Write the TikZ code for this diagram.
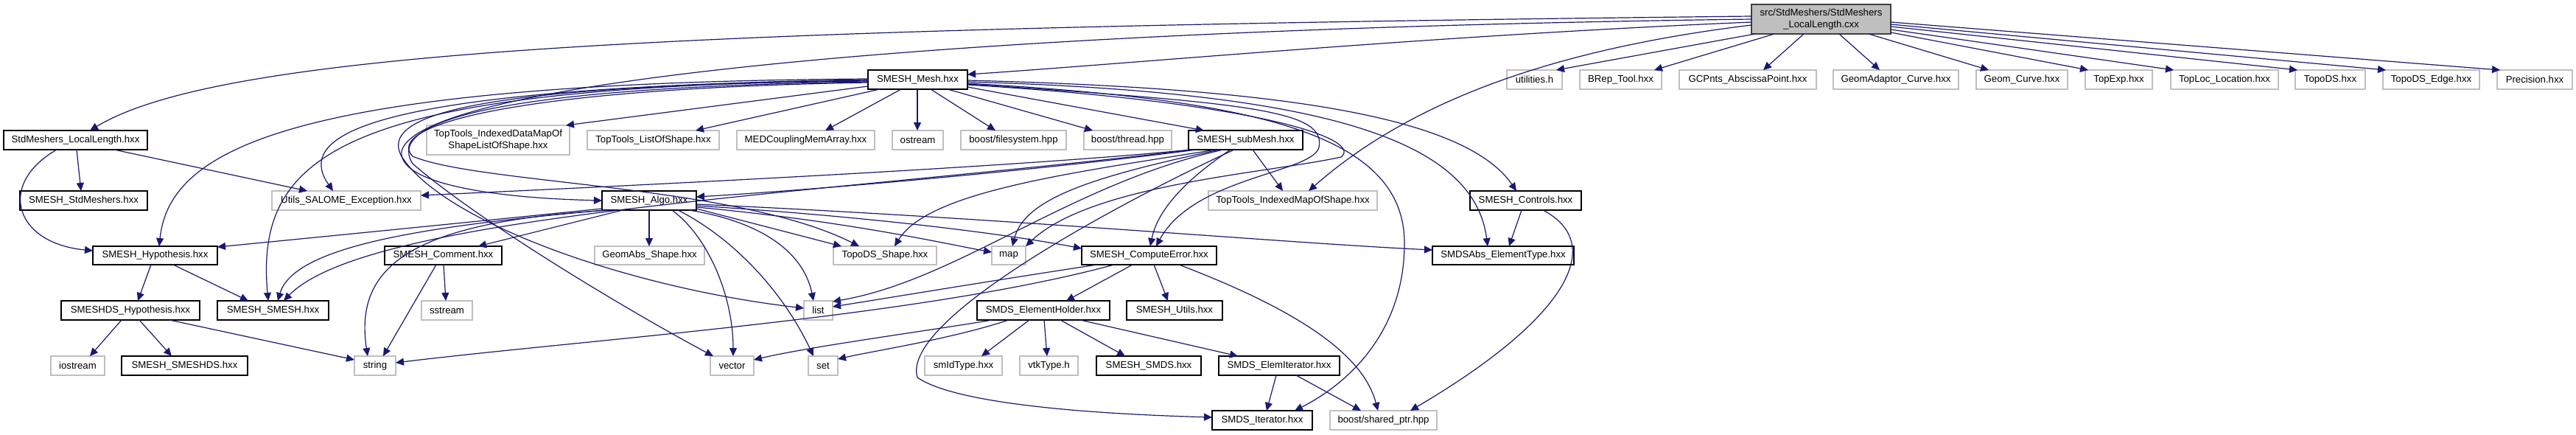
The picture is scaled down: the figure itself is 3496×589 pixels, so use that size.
\documentclass[tikz,border=0pt]{standalone}
\usepackage{fontspec}
\setmainfont{Liberation Sans}
\usetikzlibrary{arrows.meta}
\definecolor{edgec}{HTML}{191970}
\definecolor{gborder}{HTML}{BFBFBF}
\definecolor{rootfill}{HTML}{BFBFBF}
\definecolor{rootborder}{HTML}{404040}
\newcommand\mknode[7]{%
 \pgfmathsetmacro\mkcx{(#2+#4)/2}%
 \pgfmathsetmacro\mkcy{(#3+#5)/2}%
 \pgfmathsetmacro\mkw{(#4-#2)*0.5}%
 \pgfmathsetmacro\mkh{(#5-#3)*0.5}%
 \node[#6, minimum width=\mkw pt, minimum height=\mkh pt] (#1) at (\mkcx,\mkcy) {#7};}
\tikzset{
 base/.style={rectangle, inner sep=0pt, outer sep=0pt, align=center, font=\fontsize{6.6}{7.6}\selectfont, fill=white},
 bnode/.style={base, draw=black, line width=0.75pt},
 gnode/.style={base, draw=gborder, line width=0.75pt},
 rnode/.style={base, draw=rootborder, fill=rootfill, line width=0.75pt},
 dep/.style={draw=edgec, line width=0.6pt, -{Triangle[length=5.5pt,width=5pt]}, edgec}
}
\begin{document}
\begin{tikzpicture}[x=0.5pt, y=-0.5pt]
\useasboundingbox[fill=white] (0,0) rectangle (3496,589);
% nodes
\mknode{R}{2377}{6}{2566}{46}{rnode}{src/StdMeshers/StdMeshers\\\_LocalLength.cxx}
\mknode{util}{2045}{95}{2120}{121}{gnode}{utilities.h}
\mknode{brep}{2144}{95}{2255}{121}{gnode}{BRep\_Tool.hxx}
\mknode{gcp}{2279}{95}{2465}{121}{gnode}{GCPnts\_AbscissaPoint.hxx}
\mknode{gac}{2488}{95}{2658}{121}{gnode}{GeomAdaptor\_Curve.hxx}
\mknode{gcu}{2682}{95}{2806}{121}{gnode}{Geom\_Curve.hxx}
\mknode{texp}{2830}{95}{2921}{121}{gnode}{TopExp.hxx}
\mknode{tloc}{2946}{95}{3092}{121}{gnode}{TopLoc\_Location.hxx}
\mknode{tds}{3115}{95}{3210}{121}{gnode}{TopoDS.hxx}
\mknode{tdse}{3234}{95}{3365}{121}{gnode}{TopoDS\_Edge.hxx}
\mknode{prec}{3389}{95}{3491}{121}{gnode}{Precision.hxx}
\mknode{M}{1178}{95}{1313}{121}{bnode}{SMESH\_Mesh.hxx}
\mknode{sll}{5}{177}{200}{203}{bnode}{StdMeshers\_LocalLength.hxx}
\mknode{ttidm}{579}{170}{773}{210}{gnode}{TopTools\_IndexedDataMapOf\\ShapeListOfShape.hxx}
\mknode{ttlos}{797}{177}{976}{203}{gnode}{TopTools\_ListOfShape.hxx}
\mknode{medc}{1000}{177}{1187}{203}{gnode}{MEDCouplingMemArray.hxx}
\mknode{ostr}{1211}{177}{1280}{203}{gnode}{ostream}
\mknode{bfs}{1304}{177}{1447}{203}{gnode}{boost/filesystem.hpp}
\mknode{bthr}{1471}{177}{1590}{203}{gnode}{boost/thread.hpp}
\mknode{sub}{1613}{177}{1768}{203}{bnode}{SMESH\_subMesh.hxx}
\mknode{sstd}{27}{259}{200}{285}{bnode}{SMESH\_StdMeshers.hxx}
\mknode{uexc}{369}{259}{571}{285}{gnode}{Utils\_SALOME\_Exception.hxx}
\mknode{algo}{817}{259}{945}{285}{bnode}{SMESH\_Algo.hxx}
\mknode{ttim}{1640}{259}{1869}{285}{gnode}{TopTools\_IndexedMapOfShape.hxx}
\mknode{ctrl}{1995}{259}{2146}{285}{bnode}{SMESH\_Controls.hxx}
\mknode{hyp}{126}{334}{295}{359}{bnode}{SMESH\_Hypothesis.hxx}
\mknode{cmt}{522}{334}{681}{359}{bnode}{SMESH\_Comment.hxx}
\mknode{gabs}{807}{334}{956}{359}{gnode}{GeomAbs\_Shape.hxx}
\mknode{tdsh}{1131}{334}{1271}{359}{gnode}{TopoDS\_Shape.hxx}
\mknode{map}{1346}{334}{1392}{359}{gnode}{map}
\mknode{cerr}{1468}{334}{1651}{359}{bnode}{SMESH\_ComputeError.hxx}
\mknode{etype}{1944}{334}{2136}{359}{bnode}{SMDSAbs\_ElementType.hxx}
\mknode{dshyp}{83}{408}{271}{434}{bnode}{SMESHDS\_Hypothesis.hxx}
\mknode{ssmesh}{295}{408}{446}{434}{bnode}{SMESH\_SMESH.hxx}
\mknode{sstr}{572}{408}{641}{434}{gnode}{sstream}
\mknode{list}{1091}{408}{1130}{434}{gnode}{list}
\mknode{eh}{1326}{408}{1506}{434}{bnode}{SMDS\_ElementHolder.hxx}
\mknode{utils}{1529}{408}{1659}{434}{bnode}{SMESH\_Utils.hxx}
\mknode{iostr}{69}{483}{142}{509}{gnode}{iostream}
\mknode{sds}{165}{483}{336}{509}{bnode}{SMESH\_SMESHDS.hxx}
\mknode{str}{481}{483}{537}{509}{gnode}{string}
\mknode{vec}{964}{483}{1023}{509}{gnode}{vector}
\mknode{set}{1097}{483}{1137}{509}{gnode}{set}
\mknode{smid}{1255}{483}{1360}{509}{gnode}{smIdType.hxx}
\mknode{vtk}{1384}{483}{1463}{509}{gnode}{vtkType.h}
\mknode{smds}{1488}{483}{1630}{509}{bnode}{SMESH\_SMDS.hxx}
\mknode{eit}{1654}{483}{1818}{509}{bnode}{SMDS\_ElemIterator.hxx}
\mknode{it}{1645}{557}{1781}{583}{bnode}{SMDS\_Iterator.hxx}
\mknode{sptr}{1805}{557}{1950}{583}{gnode}{boost/shared\_ptr.hpp}
% root edges
\draw[dep] (2382,0 |- R.south) -- (2112,0 |- util.north);
\draw[dep] (2408,0 |- R.south) -- (2245,0 |- brep.north);
\draw[dep] (2448,0 |- R.south) -- (2393,0 |- gcp.north);
\draw[dep] (2496,0 |- R.south) -- (2551,0 |- gac.north);
\draw[dep] (2536,0 |- R.south) -- (2699,0 |- gcu.north);
\draw[dep] (R.east |- 0,44) -- (2834,0 |- texp.north);
\draw[dep] (R.east |- 0,40) -- (2950,0 |- tloc.north);
\draw[dep] (R.east |- 0,36) -- (3118,0 |- tds.north);
\draw[dep] (R.east |- 0,33) -- (3238,0 |- tdse.north);
\draw[dep] (R.east |- 0,30) -- (3393,0 |- prec.north);
\draw[dep] (R.west |- 0,30) .. controls (1950,48) and (1550,85) .. (M.east |- 0,101);
\draw[dep] (R.west |- 0,22) .. controls (900,38) and (300,70) .. (122,0 |- sll.north);
\draw[dep] (R.west |- 0,26) .. controls (1300,40) and (570,110) .. (545,205) .. controls (540,245) and (650,268) .. (algo.west |- 0,272);
\draw[dep] (R.west |- 0,34) .. controls (2080,70) and (1900,150) .. (1776,0 |- ttim.north);
% StdMeshers_LocalLength.hxx
\draw[dep] (104,0 |- sll.south) -- (110,0 |- sstd.north);
\draw[dep] (155,0 |- sll.south) -- (417,0 |- uexc.north);
\draw[dep] (77,0 |- sll.south) .. controls (-5,250) and (20,330) .. (hyp.west |- 0,340);
% SMESH_Mesh.hxx
\draw[dep] (M.west |- 0,117) -- (768,0 |- ttidm.north);
\draw[dep] (1194,0 |- M.south) -- (944,0 |- ttlos.north);
\draw[dep] (1223,0 |- M.south) -- (1120,0 |- medc.north);
\draw[dep] (1245,0 |- M.south) -- (1245,0 |- ostr.north);
\draw[dep] (1263,0 |- M.south) -- (1351,0 |- bfs.north);
\draw[dep] (1286,0 |- M.south) -- (1483,0 |- bthr.north);
\draw[dep] (M.east |- 0,118) -- (1634,0 |- sub.north);
\draw[dep] (M.east |- 0,109) .. controls (1750,120) and (1990,160) .. (2058,0 |- ctrl.north);
\draw[dep] (M.east |- 0,111) .. controls (1800,125) and (2000,190) .. (2019,0 |- etype.north);
\draw[dep] (M.east |- 0,113) .. controls (1700,135) and (1906,180) .. (1906,330) .. controls (1906,450) and (1830,520) .. (1757,0 |- it.north);
\draw[dep] (M.east |- 0,114) .. controls (1700,140) and (1800,150) .. (1790,200) .. controls (1780,235) and (1620,240) .. (1569,0 |- cerr.north);
\draw[dep] (M.east |- 0,115) .. controls (1720,140) and (1850,190) .. (1820,213) .. controls (1720,235) and (1480,250) .. (map.north east);
\draw[dep] (M.west |- 0,107) .. controls (400,112) and (230,200) .. (216,0 |- hyp.north);
\draw[dep] (M.west |- 0,108) .. controls (560,118) and (390,170) .. (452,0 |- uexc.north);
\draw[dep] (M.west |- 0,109) .. controls (480,118) and (345,200) .. (364,0 |- ssmesh.north);
\draw[dep] (M.west |- 0,110) .. controls (680,115) and (510,150) .. (545,212) .. controls (600,300) and (850,390) .. (list.west |- 0,418);
\draw[dep] (M.west |- 0,111) .. controls (700,118) and (520,160) .. (560,222) .. controls (650,300) and (850,420) .. (968,0 |- vec.north);
\draw[dep] (M.west |- 0,112) .. controls (700,120) and (520,170) .. (560,212) .. controls (650,250) and (1000,250) .. (1166,0 |- tdsh.north);
% SMESH_subMesh.hxx
\draw[dep] (1700,0 |- sub.south) -- (1741,0 |- ttim.north);
\draw[dep] (1616,0 |- sub.south) .. controls (1400,225) and (900,250) .. (uexc.east |- 0,265);
\draw[dep] (1620,0 |- sub.south) .. controls (1100,265) and (500,290) .. (385,0 |- ssmesh.north);
\draw[dep] (1624,0 |- sub.south) .. controls (1400,232) and (1100,258) .. (algo.east |- 0,267);
\draw[dep] (1650,0 |- sub.south) .. controls (1450,235) and (1260,260) .. (1214,0 |- tdsh.north);
\draw[dep] (1655,0 |- sub.south) .. controls (1480,240) and (1390,270) .. (1374,0 |- map.north);
\draw[dep] (1660,0 |- sub.south) .. controls (1450,250) and (1300,380) .. (list.east |- 0,409);
\draw[dep] (1670,0 |- sub.south) .. controls (1600,250) and (1570,290) .. (1561,0 |- cerr.north);
\draw[dep] (1675,0 |- sub.south) .. controls (1550,260) and (1220,430) .. (1245,512) .. controls (1300,550) and (1500,562) .. (it.west |- 0,566);
% SMESH_Algo.hxx
\draw[dep] (algo.west |- 0,283) .. controls (650,300) and (450,320) .. (hyp.east |- 0,335);
\draw[dep] (820,0 |- algo.south) .. controls (600,305) and (400,330) .. (377,0 |- ssmesh.north);
\draw[dep] (830,0 |- algo.south) .. controls (560,300) and (480,360) .. (499,0 |- str.north);
\draw[dep] (845,0 |- algo.south) -- (649,0 |- cmt.north);
\draw[dep] (881,0 |- algo.south) -- (881,0 |- gabs.north);
\draw[dep] (912,0 |- algo.south) .. controls (960,320) and (995,400) .. (995,0 |- vec.north);
\draw[dep] (920,0 |- algo.south) .. controls (990,320) and (1060,390) .. (1104,0 |- set.north);
\draw[dep] (935,0 |- algo.south) .. controls (1030,300) and (1090,340) .. (1104,0 |- list.north);
\draw[dep] (algo.east |- 0,283) -- (1142,0 |- tdsh.north);
\draw[dep] (algo.east |- 0,281) .. controls (1150,300) and (1280,330) .. (map.west |- 0,342);
\draw[dep] (algo.east |- 0,279) .. controls (1200,295) and (1380,320) .. (cerr.west |- 0,337);
\draw[dep] (algo.east |- 0,277) .. controls (1350,295) and (1750,330) .. (etype.west |- 0,339);
% SMESH_Controls.hxx
\draw[dep] (2065,0 |- ctrl.south) -- (2048,0 |- etype.north);
\draw[dep] (2094,0 |- ctrl.south) .. controls (2180,330) and (2130,430) .. (1914,0 |- sptr.north);
% SMESH_Hypothesis.hxx
\draw[dep] (205,0 |- hyp.south) -- (187,0 |- dshyp.north);
\draw[dep] (235,0 |- hyp.south) -- (337,0 |- ssmesh.north);
% SMESH_Comment.hxx
\draw[dep] (602,0 |- cmt.south) -- (605,0 |- sstr.north);
\draw[dep] (592,0 |- cmt.south) -- (520,0 |- str.north);
% SMESH_ComputeError.hxx
\draw[dep] (1537,0 |- cerr.south) -- (1447,0 |- eh.north);
\draw[dep] (1566,0 |- cerr.south) -- (1585,0 |- utils.north);
\draw[dep] (1489,0 |- cerr.south) .. controls (1350,380) and (1200,405) .. (list.east |- 0,416);
\draw[dep] (1512,0 |- cerr.south) .. controls (1250,430) and (800,460) .. (str.east |- 0,492);
\draw[dep] (1600,0 |- cerr.south) .. controls (1760,420) and (1850,480) .. (1870,0 |- sptr.north);
% SMESHDS_Hypothesis.hxx
\draw[dep] (165,0 |- dshyp.south) -- (122,0 |- iostr.north);
\draw[dep] (189,0 |- dshyp.south) -- (233,0 |- sds.north);
\draw[dep] (230,0 |- dshyp.south) -- (str.west |- 0,488);
% SMDS_ElementHolder.hxx
\draw[dep] (1397,0 |- eh.south) -- (1332,0 |- smid.north);
\draw[dep] (1417,0 |- eh.south) -- (1421,0 |- vtk.north);
\draw[dep] (1439,0 |- eh.south) -- (1527,0 |- smds.north);
\draw[dep] (1466,0 |- eh.south) -- (1680,0 |- eit.north);
\draw[dep] (1347,0 |- eh.south) .. controls (1250,450) and (1100,470) .. (vec.east |- 0,488);
\draw[dep] (1369,0 |- eh.south) .. controls (1290,460) and (1190,475) .. (set.east |- 0,487);
% SMDS_ElemIterator.hxx
\draw[dep] (1732,0 |- eit.south) -- (1719,0 |- it.north);
\draw[dep] (1759,0 |- eit.south) -- (1847,0 |- sptr.north);
\end{tikzpicture}
\end{document}
